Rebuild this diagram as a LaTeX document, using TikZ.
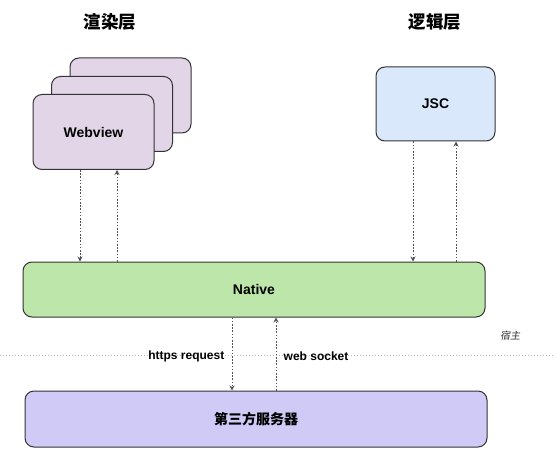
\documentclass[tikz,border=0pt]{standalone}
\usepackage{fontspec}
\setmainfont{Liberation Sans}
\newfontfamily\cjk{Noto Sans CJK SC}
\newfontfamily\cjkslant{Noto Sans CJK SC}[FakeSlant=0.2]
\usetikzlibrary{arrows.meta, positioning, calc}
\definecolor{cline}{HTML}{333333}
\definecolor{cpurple}{HTML}{E1D5E7}
\definecolor{cblue}{HTML}{DAE8FC}
\definecolor{cgreen}{HTML}{BDE6AA}
\definecolor{cviolet}{HTML}{D0CAF7}
\definecolor{cgrey}{HTML}{B5B5B5}
\tikzset{
  every picture/.style={x=1pt, y=-1pt, line width=1pt},
  box/.style={draw=cline, fill=#1, rounded corners=9pt, align=center, inner sep=0pt},
  box/.default=cpurple,
  arrow/.style={-{Stealth[length=5pt, width=5pt]}, draw=cline!85, line width=0.8pt, dash pattern=on 1.6pt off 1.6pt},
  title/.style={font=\cjk\bfseries\fontsize{17.5}{20}\selectfont},
  boxtext/.style={font=\bfseries\fontsize{14}{16}\selectfont},
  note/.style={font=\bfseries\fontsize{12}{14}\selectfont},
}

\begin{document}
\begin{tikzpicture}
  \useasboundingbox (0,0) rectangle (554,449);
  % layer titles
  \node[title] (trender) at (110,22) {渲染层};
  \node[title] (tlogic) at (435,22) {逻辑层};
  % webview stack
  \node[box, minimum width=121pt, minimum height=75pt] (wv3) at (130.5,95.5) {};
  \node[box, minimum width=121pt, minimum height=75pt] (wv2) at (112,114) {};
  \node[box, minimum width=121pt, minimum height=75pt, boxtext] (wv) at (93.5,132) {Webview};
  \node[box=cblue, minimum width=119pt, minimum height=74pt, boxtext] (jsc) at (435.5,104) {JSC};
  \node[box=cgreen, minimum width=462pt, minimum height=55pt, boxtext] (native) at (254,289.5) {Native};
  \node[box=cviolet, minimum width=462pt, minimum height=56pt, font=\cjk\bfseries\fontsize{14}{16}\selectfont] (server) at (256,419) {第三方服务器};
  % host boundary
  \coordinate (hl) at (0,355);
  \coordinate (hr) at (554,355);
  \draw[cgrey, line width=0.6pt, dash pattern=on 1pt off 2pt] (hl) -- (hr);
  \node[font=\cjkslant\fontsize{10}{12}\selectfont, text=cline] (host) at (510,336) {宿主};
  % connectors
  \draw[arrow] ([xshift=-13.5pt]wv.south) -- ([xshift=-13.5pt]wv.south |- native.north);
  \draw[arrow] ([xshift=23.5pt]wv.south |- native.north) -- ([xshift=23.5pt]wv.south);
  \draw[arrow] ([xshift=-22.5pt]jsc.south) -- ([xshift=-22.5pt]jsc.south |- native.north);
  \draw[arrow] ([xshift=20.5pt]jsc.south |- native.north) -- ([xshift=20.5pt]jsc.south);
  \draw[arrow] ([xshift=-22pt]native.south) -- node[note, left=4pt, pos=0.53] {https request} ([xshift=-22pt]native.south |- server.north);
  \draw[arrow] ([xshift=22pt]native.south |- server.north) -- node[note, right=4pt, pos=0.47] {web socket} ([xshift=22pt]native.south);
\end{tikzpicture}
\end{document}
